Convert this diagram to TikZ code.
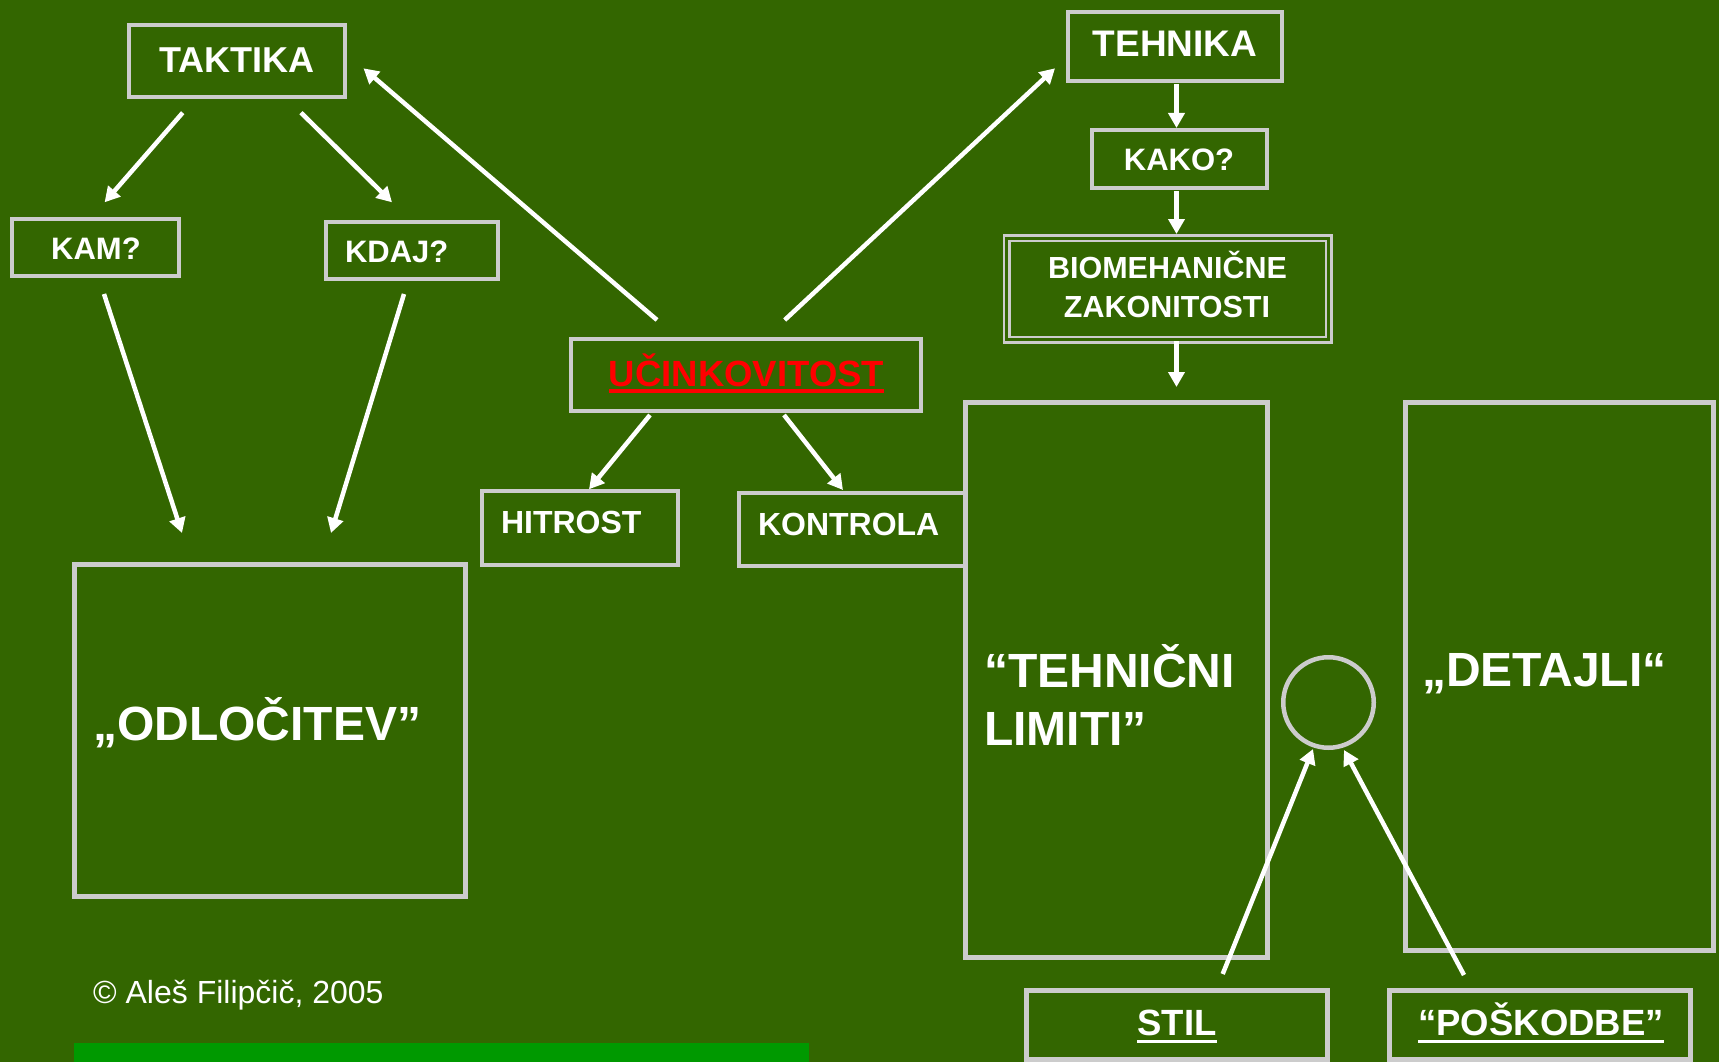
\documentclass[tikz,border=0pt]{standalone}
\usepackage{fontspec}
\setmainfont{Liberation Sans}
\usetikzlibrary{arrows.meta,calc}
\definecolor{bg}{HTML}{336600}
\definecolor{edge}{HTML}{CCCCCC}
\definecolor{barg}{HTML}{009900}
\definecolor{redt}{HTML}{FF0000}
\newcommand\fsz[1]{\fontsize{#1}{#1}\selectfont}
\tikzset{
  box/.style={draw=edge, line width=4.5pt, inner sep=0pt, outer sep=0pt, anchor=north west},
  arr/.style={draw=white, line width=4.5pt, -{Triangle[length=15pt,width=16pt]}},
  lbl/.style={text=white, inner sep=0pt, outer sep=0pt, font=\bfseries},
  uline/.style={line width=3.4pt},
}
\begin{document}
\begin{tikzpicture}[x=1pt,y=-1pt]
\useasboundingbox (0,0) rectangle (1719,1062);
\fill[bg] (0,0) rectangle (1719,1062);
\fill[barg] (74,1043) rectangle (809,1062);

% boxes
\node[box, minimum width=216pt, minimum height=72pt] (taktika) at (129,25) {};
\node[box, minimum width=167pt, minimum height=57pt] (kam) at (12,219) {};
\node[box, minimum width=172pt, minimum height=57pt] (kdaj) at (326,222) {};
\node[box, minimum width=214pt, minimum height=69pt] (tehnika) at (1068,12) {};
\node[box, minimum width=175pt, minimum height=58pt] (kako) at (1092,130) {};
\node[box, line width=2.3pt, double=bg, double distance=3.3pt, minimum width=322pt, minimum height=101.4pt] (biomeh) at (1006.7,238.3) {};
\node[box, minimum width=350pt, minimum height=72pt] (ucin) at (571,339) {};
\node[box, minimum width=196pt, minimum height=74pt] (hitrost) at (482,491) {};
\node[box, minimum width=226.5pt, minimum height=73pt] (kontrola) at (739,493) {};
\node[box, minimum width=302pt, minimum height=555pt] (tehnicni) at (965.5,402.5) {};
\node[box, minimum width=308pt, minimum height=548pt] (detajli) at (1405.5,402.5) {};
\node[box, minimum width=391pt, minimum height=332pt] (odlocitev) at (74.5,564.5) {};
\node[box, minimum width=301pt, minimum height=69pt] (stil) at (1026.5,990.5) {};
\node[box, minimum width=301pt, minimum height=69pt] (poskodbe) at (1389.5,990.5) {};
\node[draw=edge, line width=4.5pt, circle, minimum size=90.5pt, inner sep=0pt] (circ) at (1328.5,702.5) {};

% texts
\node[lbl, anchor=base] (tTaktika) at (237,72.5) {\fsz{36}TAKTIKA};
\node[lbl, anchor=base] (tKam) at (96,259) {\fsz{31}KAM?};
\node[lbl, anchor=base west] (tKdaj) at (345,262) {\fsz{31}KDAJ?};
\node[lbl, anchor=base] (tTehnika) at (1175,57) {\fsz{37}TEHNIKA};
\node[lbl, anchor=base] (tKako) at (1179,171) {\fsz{31}KAKO?};
\node[lbl, anchor=base] (tBio1) at (1167.5,278.3) {\fsz{30.5}BIOMEHANIČNE};
\node[lbl, anchor=base] (tBio2) at (1167,317.7) {\fsz{30.5}ZAKONITOSTI};
\node[lbl, anchor=base, text=redt] (tUcin) at (746.5,386) {\fsz{36.5}UČINKOVITOST};
\draw[redt, uline] ([yshift=-5pt]tUcin.base west) -- ([yshift=-5pt]tUcin.base east);
\node[lbl, anchor=base west] (tHitrost) at (501,533) {\fsz{32}HITROST};
\node[lbl, anchor=base west] (tKontrola) at (758,535) {\fsz{32}KONTROLA};
\node[lbl, anchor=base west] (tTeh1) at (984,687) {\fsz{48}“TEHNIČNI};
\node[lbl, anchor=base west] (tTeh2) at (984,745) {\fsz{48}LIMITI”};
\node[lbl, anchor=base west] (tDetajli) at (1422,686) {\fsz{48}„DETAJLI“};
\node[lbl, anchor=base west] (tOdl) at (93,740) {\fsz{48}„ODLOČITEV”};
\node[lbl, anchor=base] (tStil) at (1177,1035) {\fsz{36.5}STIL};
\draw[white, uline] ([yshift=-6.5pt]tStil.base west) -- ([yshift=-6.5pt]tStil.base east);
\node[lbl, anchor=base] (tPosk) at (1541,1035) {\fsz{36.5}“POŠKODBE”};
\draw[white, uline] ([yshift=-6.5pt]tPosk.base west) -- ([yshift=-6.5pt]tPosk.base east);
\node[text=white, inner sep=0pt, anchor=base west] (copy) at (93,1003) {\fsz{32}© Aleš Filipčič, 2005};

% arrows
\draw[arr] ($(taktika.north west)+(53.7,87.7)$) -- ($(kam.north west)+(92.6,-16.7)$);
\draw[arr] ($(taktika.north west)+(172,87.7)$) -- ($(kdaj.north west)+(66,-19.7)$);
\draw[arr] ($(kam.north west)+(92,75)$) -- ($(odlocitev.north west)+(107.5,-31.5)$);
\draw[arr] ($(kdaj.north west)+(78,72)$) -- ($(odlocitev.north west)+(256.5,-31.5)$);
\draw[arr] ($(ucin.north west)+(86,-19)$) -- ($(taktika.north west)+(234.5,43.3)$);
\draw[arr] ($(ucin.north west)+(213.7,-19)$) -- ($(tehnika.north west)+(-13,56.3)$);
\draw[arr] ($(tehnika.north west)+(108.5,72)$) -- ($(kako.north west)+(84.5,-2)$);
\draw[arr] ($(kako.north west)+(84.5,61)$) -- ($(biomeh.north west)+(169.8,-4.3)$);
\draw[arr] ($(biomeh.north west)+(169.8,102.7)$) -- ($(tehnicni.north west)+(211,-15.5)$);
\draw[arr] ($(ucin.north west)+(79,76)$) -- ($(hitrost.north west)+(107,-1.7)$);
\draw[arr] ($(ucin.north west)+(213,76)$) -- ($(kontrola.north west)+(104,-3)$);
\draw[arr] ($(stil.north west)+(196.2,-16.5)$) -- ($(circ.center)+(-15.5,46.5)$);
\draw[arr] ($(poskodbe.north west)+(74.5,-15.5)$) -- ($(circ.center)+(15.5,47.5)$);
\end{tikzpicture}
\end{document}
